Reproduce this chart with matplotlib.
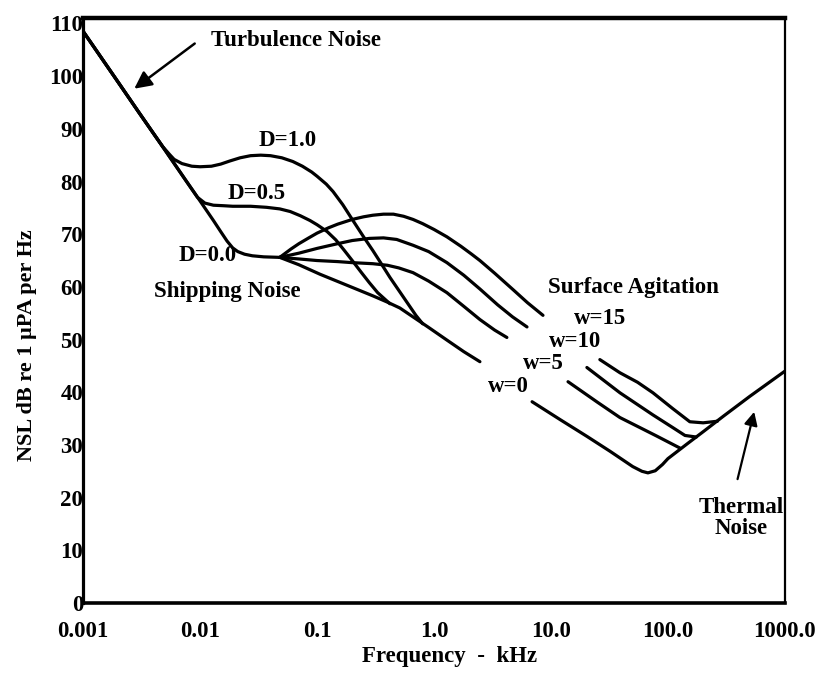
import matplotlib
matplotlib.use("Agg")
import matplotlib.pyplot as plt

plt.rcParams['font.family'] = ['Liberation Serif', 'DejaVu Serif']
plt.rcParams['font.weight'] = 'bold'

# Shipping-activity curves (turbulence slope on the left, shipping hump after)
d_labels = ["D=1.0", "D=0.5", "D=0.0"]
d_freq = {
    "D=1.0": [0.001, 0.002, 0.003, 0.004, 0.0048, 0.0055, 0.006, 0.007, 0.0085,
              0.01, 0.0125, 0.015, 0.018, 0.022, 0.027, 0.033, 0.04, 0.05, 0.062,
              0.075, 0.09, 0.1, 0.12, 0.137, 0.166, 0.2, 0.25, 0.3, 0.345, 0.42,
              0.55, 0.7, 0.8],
    "D=0.5": [0.001, 0.002, 0.003, 0.005, 0.0075, 0.0095, 0.011, 0.013, 0.016,
              0.019, 0.027, 0.037, 0.048, 0.059, 0.072, 0.087, 0.1, 0.122, 0.145,
              0.17, 0.2, 0.24, 0.28, 0.33, 0.42],
    "D=0.0": [0.001, 0.002, 0.003, 0.005, 0.0075, 0.01, 0.013, 0.015, 0.017,
              0.019, 0.021, 0.024, 0.028, 0.035, 0.048],
}
d_level = {
    "D=1.0": [108.5, 98.8, 93.1, 89.1, 86.6, 85.1, 84.2, 83.4, 82.9,
              82.8, 82.9, 83.3, 83.9, 84.5, 84.9, 85.0, 84.9, 84.5, 83.8,
              82.9, 81.8, 81.0, 79.5, 78.1, 75.6, 72.8, 69.5, 66.9, 64.8, 61.8,
              58.0, 54.6, 53.0],
    "D=0.5": [108.5, 98.8, 93.1, 86.0, 80.3, 77.0, 75.9, 75.5, 75.4,
              75.3, 75.3, 75.1, 74.8, 74.3, 73.5, 72.6, 71.8, 70.5, 68.9,
              67.0, 65.0, 62.7, 60.8, 58.9, 56.8],
    "D=0.0": [108.5, 98.8, 93.1, 86.0, 80.3, 76.3, 72.6, 70.5, 68.7,
              67.4, 66.7, 66.2, 65.9, 65.7, 65.6],
}

# Wind-speed curves, broken where the w= labels sit
w_labels = ["w=15", "w=10", "w=5", "w=0"]
w_freq_lo = {
    "w=15": [0.048, 0.06, 0.07, 0.085, 0.1, 0.125, 0.15, 0.2, 0.25, 0.3, 0.37,
             0.45, 0.55, 0.662, 0.8, 1.0, 1.29, 1.7, 2.1, 2.47, 3.3, 4.73, 6.3, 8.55],
    "w=10": [0.048, 0.07, 0.1, 0.15, 0.2, 0.28, 0.37, 0.48, 0.662, 0.9, 1.29,
             1.8, 2.47, 3.5, 4.7, 6.24],
    "w=5": [0.048, 0.07, 0.1, 0.15, 0.2, 0.3, 0.4, 0.5, 0.662, 0.9, 1.29, 1.8,
            2.47, 3.3, 4.2],
    "w=0": [0.048, 0.07, 0.106, 0.2, 0.3, 0.4, 0.51, 0.662, 0.9, 1.29, 1.8, 2.47],
}
w_level_lo = {
    "w=15": [65.6, 67.2, 68.2, 69.3, 70.2, 71.2, 71.9, 72.8, 73.3, 73.6, 73.8,
             73.8, 73.4, 72.8, 72.0, 70.9, 69.5, 67.7, 66.2, 65.0, 62.6, 59.5, 57.0, 54.6],
    "w=10": [65.6, 66.4, 67.3, 68.2, 68.8, 69.2, 69.3, 69.0, 67.9, 66.7, 64.6,
             62.2, 59.6, 56.6, 54.3, 52.4],
    "w=5": [65.6, 65.3, 65.0, 64.8, 64.6, 64.4, 64.1, 63.6, 62.7, 61.1, 58.9, 56.3,
            53.8, 51.8, 50.4],
    "w=0": [65.6, 64.2, 62.4, 59.9, 58.3, 57.1, 56.0, 54.3, 52.3, 49.9, 47.7, 45.8],
}
w_freq_hi = {
    "w=15": [26.2, 38.9, 55, 74.5, 110, 154, 200, 265],
    "w=10": [20.3, 38.9, 74.5, 110, 140, 175],
    "w=5": [14.0, 25, 38.9, 60, 80, 127],
    "w=0": [6.9, 12, 20.4, 32, 50, 60, 67.5, 78, 90, 100, 150, 200, 300, 500, 1000],
}
w_level_hi = {
    "w=15": [46.2, 43.7, 41.9, 39.9, 36.9, 34.4, 34.2, 34.5],
    "w=10": [44.7, 39.9, 35.7, 33.3, 31.8, 31.5],
    "w=5": [42.0, 38.1, 35.2, 33.1, 31.7, 29.4],
    "w=0": [38.2, 34.8, 31.6, 28.8, 25.9, 25.0, 24.7, 25.1, 26.3, 27.4, 30.4, 32.5,
            35.5, 39.2, 44.0],
}

x_ticks = [0.001, 0.01, 0.1, 1, 10, 100, 1000]
x_tick_labels = ["0.001", "0.01", "0.1", "1.0", "10.0", "100.0", "1000.0"]
y_ticks = list(range(0, 111, 10))

fig = plt.figure(figsize=(8.15, 6.73), dpi=100)
ax = fig.add_axes([0.102, 0.104, 0.861, 0.869])

lw = 2.3
for d in d_labels:
    ax.plot(d_freq[d], d_level[d], color='black', lw=lw, solid_capstyle='round',
            solid_joinstyle='round')
for w in w_labels:
    ax.plot(w_freq_lo[w], w_level_lo[w], color='black', lw=lw,
            solid_capstyle='round', solid_joinstyle='round')
    ax.plot(w_freq_hi[w], w_level_hi[w], color='black', lw=lw,
            solid_capstyle='round', solid_joinstyle='round')

ax.set_xscale('log')
ax.set_xlim(0.001, 1000)
ax.set_ylim(0, 111)
ax.set_xticks(x_ticks)
ax.set_xticklabels(x_tick_labels)
ax.set_yticks(y_ticks)
ax.minorticks_off()
ax.tick_params(axis='both', length=0, labelsize=16.5)
ax.tick_params(axis='x', pad=13)
ax.tick_params(axis='y', pad=0)

for side, width in [('left', 2.3), ('bottom', 2.6), ('top', 3.2), ('right', 1.6)]:
    ax.spines[side].set_linewidth(width)

fs = 16.5
ax.text(0.0123, 106.7, "Turbulence Noise", fontsize=fs, ha='left', va='center')
ax.annotate("", xy=(0.00262, 97.3), xytext=(0.0094, 106.5),
            arrowprops=dict(arrowstyle='-|>', color='black', lw=1.8,
                            mutation_scale=26))
ax.text(0.0565, 87.8, "D=1.0", fontsize=fs, ha='center', va='center')
ax.text(0.0307, 77.8, "D=0.5", fontsize=fs, ha='center', va='center')
ax.text(0.0115, 66.0, "D=0.0", fontsize=fs, ha='center', va='center')
ax.text(0.017, 59.1, "Shipping Noise", fontsize=fs, ha='center', va='center')
ax.text(51.2, 59.9, "Surface Agitation", fontsize=fs, ha='center', va='center')
ax.text(26.2, 54.0, "w=15", fontsize=fs, ha='center', va='center')
ax.text(16.0, 49.6, "w=10", fontsize=fs, ha='center', va='center')
ax.text(8.55, 45.4, "w=5", fontsize=fs, ha='center', va='center')
ax.text(4.29, 41.1, "w=0", fontsize=fs, ha='center', va='center')
ax.text(420, 16.2, "Thermal\nNoise", fontsize=fs, ha='center', va='center',
        linespacing=1.0)
ax.annotate("", xy=(554, 36.8), xytext=(389, 23.0),
            arrowprops=dict(arrowstyle='-|>', color='black', lw=1.6,
                            mutation_scale=20))

fig.text(0.033, 0.487, "NSL dB re 1 \u03bcPA per Hz", rotation=90,
         fontsize=16, ha='center', va='center')
fig.text(0.552, 0.024, "Frequency  -  kHz", fontsize=16.5, ha='center', va='center')

fig.savefig("out.png", dpi=100)
